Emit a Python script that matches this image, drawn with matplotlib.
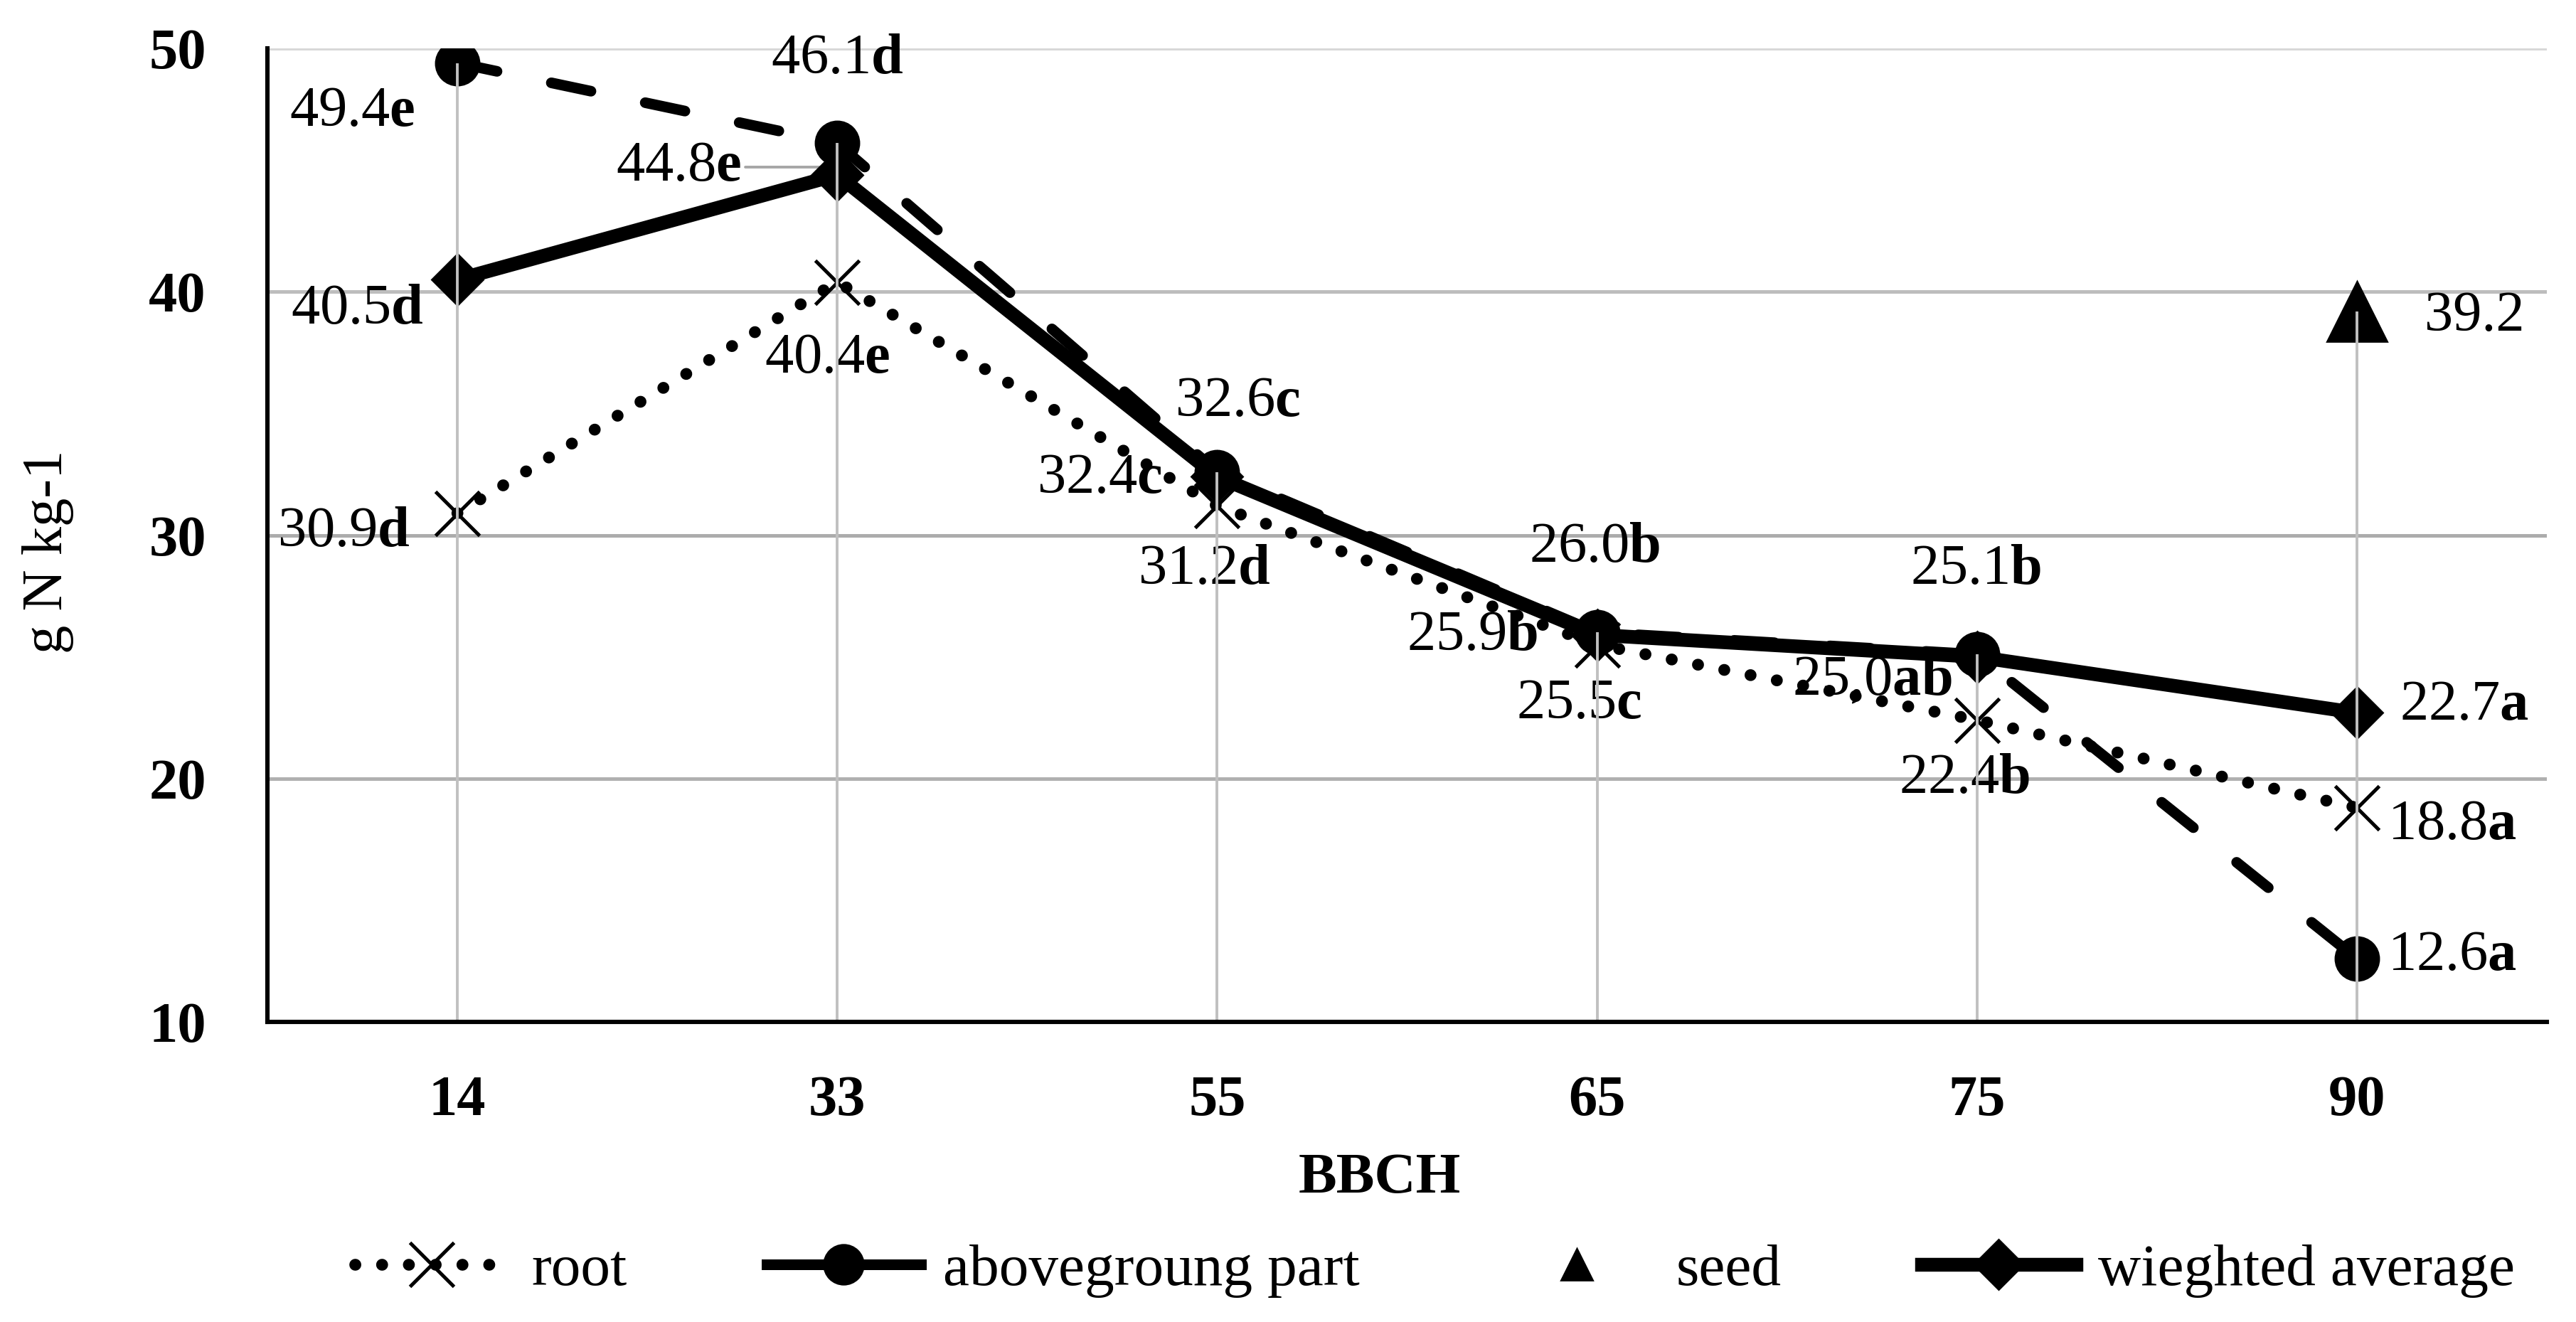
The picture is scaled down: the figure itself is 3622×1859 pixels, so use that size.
import numpy as np
import matplotlib
matplotlib.use('Agg')
import matplotlib.pyplot as plt
from matplotlib.lines import Line2D

# ---------------- data ----------------
categories = ['14', '33', '55', '65', '75', '90']
root = [30.9, 40.4, 31.2, 25.5, 22.4, 18.8]
aboveground = [49.4, 46.1, 32.6, 26.0, 25.1, 12.6]
seed = [np.nan, np.nan, np.nan, np.nan, np.nan, 39.2]
weighted = [40.5, 44.8, 32.4, 25.9, 25.0, 22.7]

root_num = ['30.9', '40.4', '31.2', '25.5', '22.4', '18.8']
root_let = ['d', 'e', 'd', 'c', 'b', 'a']
above_num = ['49.4', '46.1', '32.6', '26.0', '25.1', '12.6']
above_let = ['e', 'd', 'c', 'b', 'b', 'a']
weighted_num = ['40.5', '44.8', '32.4', '25.9', '25,0', '22.7']
weighted_let = ['d', 'e', 'c', 'b', 'ab', 'a']
seed_num = ['', '', '', '', '', '39.2']

yticks = [10, 20, 30, 40, 50]
series_names = ['root', 'abovegroung part', 'seed', 'wieghted average']

# ---------------- label placement (pixels, y up) ----------------
above_off = [(-148, -69), (0, 118), (29, 98), (-3, 119), (-2, 119), (134, 4)]
weighted_off = [(-141, -42), (-223, 11), (-165, -3), (-175, -2), (-147, -34), (151, 10)]
root_off = [(-160, -27), (-14, -108), (-18, -90), (-25, -84), (-18, -83), (134, -25)]
seed_off = [(0, 0)] * 5 + [(165, -8)]

# ---------------- style ----------------
FONT = 'Liberation Serif'
FS = 29
plt.rcParams['font.family'] = [FONT, 'DejaVu Serif']
plt.rcParams['mathtext.fontset'] = 'custom'
plt.rcParams['mathtext.rm'] = FONT
plt.rcParams['mathtext.it'] = FONT + ':italic'
plt.rcParams['mathtext.bf'] = FONT + ':bold'

DPI = 200
fig = plt.figure(figsize=(3622 / DPI, 1859 / DPI), dpi=DPI)
ax = fig.add_axes([376 / 3622, 1 - 1437 / 1859, (3581 - 376) / 3622, (1437 - 68) / 1859])

x = np.arange(len(categories))
ax.set_xlim(-0.5, len(categories) - 0.5)
ax.set_ylim(10, 50)

# horizontal gridlines
grid_cols = {20: '#b0b0b0', 30: '#acacac', 40: '#bdbdbd', 50: '#d8d8d8'}
for yv in yticks[1:]:
    ax.axhline(yv, color=grid_cols[yv], lw=1.8, zorder=0.5)

# drop lines (drawn over the series, as in the reference)
allv = np.array([root, aboveground, seed, weighted], dtype=float)
tops = np.nanmax(allv, axis=0)
ax.vlines(x, 10, tops, color='#c0c0c0', lw=1.4, zorder=7)

# series
ax.plot(x, aboveground, color='black', lw=5.4, linestyle=(0, (3.8, 5.2)),
        dash_capstyle='round', marker='o', ms=22, zorder=3)
ax.plot(x, root, color='black', lw=6, linestyle=(0, (0.01, 2.25)),
        dash_capstyle='round', marker='x', ms=22, mew=1.8, zorder=4)
ax.plot(x, weighted, color='black', lw=7, solid_capstyle='round',
        marker='D', ms=18.5, zorder=5)
ax.plot(x, seed, color='black', lw=0, marker='^', ms=30, zorder=6)


def lab(num, let):
    if let:
        return num + r'$\mathbf{' + let + '}$'
    return num


LZ = 2
for i in range(len(categories)):
    ax.annotate(lab(above_num[i], above_let[i]), (x[i], aboveground[i]),
                xytext=above_off[i], textcoords='offset pixels',
                ha='center', va='center', fontsize=FS, zorder=LZ)
    ax.annotate(lab(root_num[i], root_let[i]), (x[i], root[i]),
                xytext=root_off[i], textcoords='offset pixels',
                ha='center', va='center', fontsize=FS, zorder=LZ)
    if i == 1:
        ax.annotate(lab(weighted_num[i], weighted_let[i]), (x[i], weighted[i]),
                    xytext=weighted_off[i], textcoords='offset pixels',
                    ha='center', va='center', fontsize=FS, zorder=LZ,
                    arrowprops=dict(arrowstyle='-', color='#a6a6a6', lw=1.4,
                                    shrinkA=0, shrinkB=0,
                                    connectionstyle='angle,angleA=0,angleB=30,rad=0'))
    else:
        ax.annotate(lab(weighted_num[i], weighted_let[i]), (x[i], weighted[i]),
                    xytext=weighted_off[i], textcoords='offset pixels',
                    ha='center', va='center', fontsize=FS, zorder=LZ)
    if seed_num[i]:
        ax.annotate(seed_num[i], (x[i], seed[i]),
                    xytext=seed_off[i], textcoords='offset pixels',
                    ha='center', va='center', fontsize=FS, zorder=LZ)

# axes styling
for s in ['top', 'right']:
    ax.spines[s].set_visible(False)
for s in ['left', 'bottom']:
    ax.spines[s].set_linewidth(2.2)
    ax.spines[s].set_color('black')
    ax.spines[s].set_zorder(8)

ax.set_xticks(x)
ax.set_xticklabels(categories, fontsize=FS, fontweight='bold')
ax.set_yticks(yticks)
ax.set_yticklabels([str(v) for v in yticks], fontsize=FS, fontweight='bold')
ax.tick_params(axis='x', length=0, pad=27)
ax.tick_params(axis='y', length=0, pad=31)

ax.set_ylabel('g N kg-1', fontsize=FS, va='center')
ax.yaxis.set_label_coords(-0.0961, 0.483)
ax.set_xlabel('BBCH', fontsize=FS, fontweight='bold', va='center')
ax.xaxis.set_label_coords(0.488, -0.161)

handles = [
    Line2D([], [], color='black', lw=6, linestyle=(0, (0.01, 2.25)),
           dash_capstyle='round', marker='x', ms=22, mew=1.8),
    Line2D([], [], color='black', lw=5.4, linestyle='-', marker='o', ms=20),
    Line2D([], [], color='black', lw=0, marker='^', ms=16),
    Line2D([], [], color='black', lw=7, marker='D', ms=18),
]
fig.legend(handles, series_names, loc='center', bbox_to_anchor=(0.557, 0.0387),
           ncol=4, frameon=False, handlelength=2.6, handletextpad=0.38,
           columnspacing=2.36, prop={'family': FONT, 'size': 30})

fig.savefig('out.png', dpi=DPI, facecolor='white')
